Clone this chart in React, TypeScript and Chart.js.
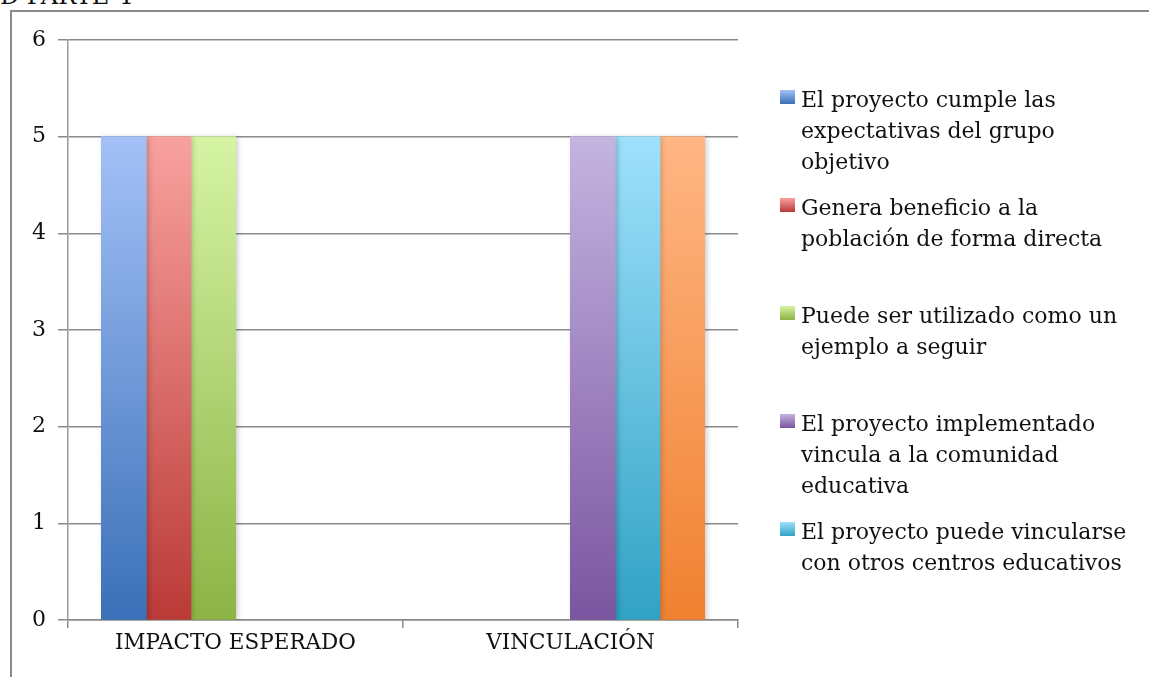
import React, { useEffect, useRef } from "react";
import { Chart, registerables } from "chart.js";

Chart.register(...registerables);

const categories = ["IMPACTO ESPERADO", "VINCULACIÓN"];
const seriesLabels = [
  "El proyecto cumple las\nexpectativas del grupo\nobjetivo",
  "Genera beneficio a la\npoblación de forma directa",
  "Puede ser utilizado como un\nejemplo a seguir",
  "El proyecto implementado\nvincula a la comunidad\neducativa",
  "El proyecto puede vincularse\ncon otros centros educativos",
  "Los actores se involucran en el\nproyecto",
];
const s1 = [5, null];
const s2 = [5, null];
const s3 = [5, null];
const s4 = [null, 5];
const s5 = [null, 5];
const s6 = [null, 5];
const seriesValues = [s1, s2, s3, s4, s5, s6];
const yTicks = [0, 1, 2, 3, 4, 5, 6];

const gradTop = ["#a4c1f7", "#f9a19f", "#d5f4a4", "#c4b4e0", "#9fe1fc", "#ffb684"];
const gradBottom = ["#3a70b8", "#ba3a37", "#8db345", "#7a55a0", "#31a2c4", "#f08130"];

const FONT = "'DejaVu Serif', serif";

export default function App() {
  const ref = useRef<HTMLCanvasElement>(null);

  useEffect(() => {
    if (!ref.current) return;
    const shadowPlugin = {
      id: "barShadow",
      beforeDatasetsDraw(chart: any) {
        const ctx = chart.ctx;
        ctx.save();
        ctx.shadowColor = "rgba(0,0,0,0.2)";
        ctx.shadowBlur = 5;
        ctx.shadowOffsetX = 2;
        ctx.shadowOffsetY = 1;
      },
      afterDatasetsDraw(chart: any) {
        chart.ctx.restore();
      },
    };
    const chart = new Chart(ref.current, {
      type: "bar",
      data: {
        labels: categories,
        datasets: seriesValues.map((vals, i) => ({
          label: seriesLabels[i],
          data: vals,
          backgroundColor: (c: any) => {
            const area = c.chart.chartArea;
            if (!area) return gradBottom[i];
            const g = c.chart.ctx.createLinearGradient(0, area.top + (area.bottom - area.top) / 6, 0, area.bottom);
            g.addColorStop(0, gradTop[i]);
            g.addColorStop(1, gradBottom[i]);
            return g;
          },
          borderWidth: 0,
          inflateAmount: 0.5,
          categoryPercentage: 0.8,
          barPercentage: 1.0,
        })),
      },
      options: {
        responsive: false,
        animation: false,
        layout: { padding: { left: 0, top: 40, right: 411, bottom: 0 } },
        plugins: {
          legend: { display: false },
          tooltip: { enabled: false },
        },
        scales: {
          x: {
            offset: true,
            grid: {
              offset: true,
              drawOnChartArea: false,
              drawTicks: true,
              tickLength: 8,
              color: "#8a8a8a",
              lineWidth: 1.5,
            },
            border: { display: true, color: "#8a8a8a", width: 1.5 },
            ticks: {
              color: "#111",
              padding: 3,
              font: { family: FONT, size: 21.5 },
            },
            afterFit(scale: any) {
              scale.height = 57;
            },
          },
          y: {
            min: 0,
            max: 6,
            afterBuildTicks(scale: any) {
              scale.ticks = yTicks.map((v) => ({ value: v }));
            },
            grid: {
              color: "#8a8a8a",
              lineWidth: 1.5,
              drawTicks: true,
              tickLength: 10,
            },
            border: { display: true, color: "#9a9a9a", width: 1.5 },
            ticks: {
              color: "#111",
              padding: 12,
              font: { family: FONT, size: 22 },
            },
            afterFit(scale: any) {
              scale.width = 68;
            },
          },
        },
      },
      plugins: [shadowPlugin],
    });
    return () => chart.destroy();
  }, []);

  const legendItems = seriesLabels.slice(0, 5);

  return (
    <div
      style={{
        position: "fixed",
        left: 0,
        top: 0,
        width: 1149,
        height: 677,
        overflow: "hidden",
        background: "#fff",
        fontFamily: FONT,
      }}
    >
      <div
        style={{
          position: "absolute",
          left: 0,
          top: -16,
          fontSize: 24,
          lineHeight: "24px",
          color: "#111",
          whiteSpace: "nowrap",
        }}
      >
        D PARTE 4
      </div>
      <div style={{ position: "absolute", left: 10, top: 10, width: 2, height: 667, background: "#8a8a8a" }} />
      <div style={{ position: "absolute", left: 10, top: 10, width: 1139, height: 2, background: "#8a8a8a" }} />
      <canvas ref={ref} width={1149} height={677} style={{ position: "absolute", left: 0, top: 0, width: 1149, height: 677 }} />
      <div style={{ position: "absolute", left: 780, top: 84 }}>
        {legendItems.map((lab, i) => (
          <div key={i} style={{ height: 108, display: "flex", alignItems: "flex-start" }}>
            <div
              style={{
                width: 15,
                height: 14,
                marginTop: 6,
                marginRight: 6,
                flex: "0 0 auto",
                background: `linear-gradient(${gradTop[i]}, ${gradBottom[i]})`,
              }}
            />
            <div
              style={{
                fontSize: 22,
                lineHeight: "31px",
                color: "#111",
                whiteSpace: "pre",
              }}
            >
              {lab}
            </div>
          </div>
        ))}
      </div>
    </div>
  );
}
